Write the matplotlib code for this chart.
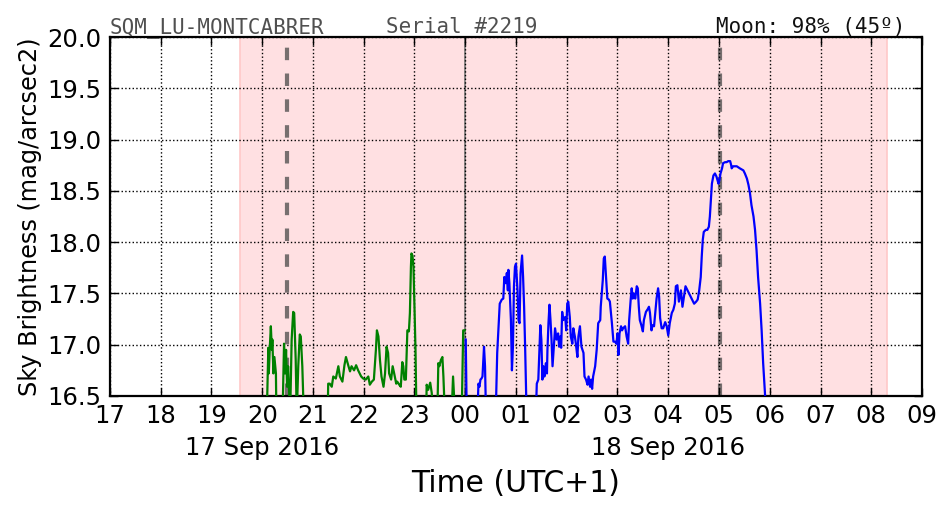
import matplotlib
matplotlib.use('Agg')
import matplotlib.pyplot as plt
import numpy as np

# decimal hours counted from 17 Sep 2016 00:00 (UTC+1); values in mag/arcsec2
# readings under 16.5 fall off the bottom of the plot
green_t = [20.09, 20.12, 20.13, 20.15, 20.17, 20.19, 20.20, 20.22, 20.24, 20.27, 20.28,
           20.40, 20.43, 20.45, 20.47, 20.49, 20.51, 20.55, 20.58, 20.61, 20.63, 20.66, 20.68,
           20.71, 20.74, 20.76, 20.79, 20.82,
           21.29, 21.30, 21.33, 21.37, 21.40, 21.45, 21.50, 21.53, 21.58, 21.62, 21.65, 21.70,
           21.73, 21.76, 21.81, 21.85, 21.89, 21.95, 21.99, 22.04, 22.09, 22.12, 22.16, 22.20,
           22.24, 22.26, 22.29, 22.32, 22.35, 22.39, 22.42, 22.45, 22.48, 22.50, 22.54, 22.57,
           22.60, 22.64, 22.66, 22.70, 22.73, 22.76, 22.78, 22.80, 22.83, 22.86, 22.89, 22.91,
           22.93, 22.94, 22.96, 22.98, 23.00, 23.02, 23.04,
           23.23, 23.24, 23.27, 23.31, 23.34, 23.37,
           23.45, 23.47, 23.49, 23.52, 23.55, 23.57, 23.60,
           23.73, 23.76, 23.80,
           23.93, 23.96, 23.99]
green_v = [16.30, 16.97, 16.72, 16.98, 17.18, 16.95, 17.05, 16.72, 16.88, 16.72, 16.30,
           16.30, 17.01, 16.72, 16.95, 16.59, 16.79, 16.30, 17.05, 17.32, 17.31, 16.85, 16.30,
           16.79, 17.10, 17.08, 16.79, 16.30,
           16.30, 16.62, 16.62, 16.59, 16.69, 16.67, 16.79, 16.69, 16.64, 16.80, 16.88, 16.79,
           16.74, 16.79, 16.75, 16.80, 16.75, 16.69, 16.67, 16.66, 16.69, 16.61, 16.64, 16.66,
           16.95, 17.14, 17.08, 16.85, 16.69, 16.59, 16.72, 16.98, 16.92, 16.72, 16.66, 16.79,
           16.72, 16.62, 16.64, 16.61, 16.59, 16.83, 16.79, 16.66, 16.66, 17.14, 17.13, 17.31,
           17.76, 17.89, 17.87, 17.76, 17.37, 16.95, 16.30,
           16.30, 16.61, 16.56, 16.63, 16.53, 16.30,
           16.30, 16.82, 16.79, 16.85, 16.88, 16.69, 16.30,
           16.30, 16.69, 16.30,
           16.30, 17.14, 17.14]

blue_t = [24.01, 24.03, 24.24, 24.26, 24.28, 24.30, 24.32, 24.34, 24.37, 24.39, 24.41,
          24.60, 24.63, 24.67, 24.68, 24.72, 24.75, 24.77, 24.80, 24.82, 24.84, 24.85, 24.87,
          24.90, 24.92, 24.94, 24.96, 24.98, 25.00, 25.03, 25.05, 25.07, 25.09, 25.12, 25.14,
          25.16, 25.18, 25.21,
          25.39, 25.41, 25.44, 25.46, 25.48, 25.50, 25.52, 25.54, 25.56, 25.59, 25.61, 25.62,
          25.64, 25.66, 25.68, 25.70, 25.72, 25.75, 25.77, 25.80, 25.83, 25.85, 25.87, 25.89,
          25.91, 25.93, 25.97, 25.99, 26.01, 26.03, 26.06, 26.08, 26.11, 26.13, 26.16, 26.18,
          26.21, 26.23, 26.26, 26.29, 26.33, 26.35, 26.38, 26.41, 26.43, 26.46, 26.48, 26.50,
          26.52, 26.56, 26.59, 26.62, 26.66, 26.67, 26.71, 26.73, 26.75, 26.77, 26.80, 26.83,
          26.85, 26.89, 26.92, 26.95, 26.98, 27.00, 27.02, 27.04, 27.07, 27.09, 27.11, 27.15,
          27.18, 27.21, 27.23, 27.26, 27.28, 27.30, 27.32, 27.35, 27.38, 27.40, 27.42, 27.44,
          27.47, 27.50, 27.52, 27.56, 27.60, 27.62, 27.64, 27.67, 27.69, 27.72, 27.74, 27.77,
          27.80, 27.82, 27.84, 27.87, 27.90, 27.94, 27.97, 28.00, 28.03, 28.07, 28.10, 28.13,
          28.15, 28.18, 28.21, 28.25, 28.28, 28.31, 28.34, 28.38, 28.41, 28.44, 28.47, 28.51,
          28.55, 28.58, 28.61, 28.64, 28.66, 28.68, 28.70, 28.74, 28.77, 28.80, 28.82, 28.84,
          28.86, 28.89, 28.92, 28.95, 28.99, 29.01, 29.03, 29.06, 29.08, 29.12, 29.15, 29.18,
          29.22, 29.24, 29.25, 29.28, 29.35, 29.41, 29.48, 29.51, 29.55, 29.58, 29.61, 29.64,
          29.68, 29.71, 29.74, 29.77, 29.81, 29.84, 29.87, 29.91, 29.95]
blue_v = [17.05, 16.30, 16.30, 16.62, 16.59, 16.66, 16.67, 16.69, 16.98, 16.79, 16.30,
          16.30, 16.92, 17.31, 17.40, 17.44, 17.45, 17.66, 17.60, 17.70, 17.53, 17.73, 17.60,
          17.24, 16.75, 16.98, 17.57, 17.76, 17.79, 17.53, 17.24, 17.21, 17.70, 17.87, 17.66,
          17.37, 16.98, 16.30,
          16.30, 16.62, 16.66, 16.92, 17.19, 17.05, 16.66, 16.79, 16.69, 16.82, 16.72, 16.95,
          17.21, 17.39, 17.24, 17.05, 16.79, 17.01, 17.16, 17.05, 17.11, 16.98, 17.08, 16.97,
          17.32, 17.24, 17.27, 17.14, 17.40, 17.42, 17.27, 17.08, 17.01, 17.16, 17.08, 17.01,
          16.88, 17.08, 17.18, 16.98, 16.92, 16.69, 16.66, 16.61, 16.69, 16.59, 16.66, 16.57,
          16.69, 16.79, 16.95, 17.21, 17.24, 17.37, 17.63, 17.84, 17.86, 17.70, 17.45, 17.44,
          17.42, 17.21, 17.03, 17.03, 17.01, 17.11, 16.90, 17.11, 17.18, 17.14, 17.16, 17.18,
          17.08, 17.01, 17.24, 17.44, 17.55, 17.45, 17.50, 17.45, 17.57, 17.55, 17.37, 17.24,
          17.19, 17.13, 17.24, 17.32, 17.35, 17.37, 17.31, 17.14, 17.19, 17.18, 17.29, 17.45,
          17.55, 17.47, 17.26, 17.16, 17.16, 17.22, 17.18, 17.09, 17.21, 17.31, 17.34, 17.40,
          17.57, 17.58, 17.42, 17.53, 17.37, 17.47, 17.57, 17.53, 17.50, 17.47, 17.44, 17.40,
          17.42, 17.44, 17.53, 17.66, 17.86, 18.02, 18.10, 18.12, 18.12, 18.15, 18.25, 18.41,
          18.57, 18.65, 18.67, 18.64, 18.57, 18.61, 18.67, 18.72, 18.77, 18.78, 18.78, 18.79,
          18.79, 18.75, 18.72, 18.74, 18.74, 18.72, 18.70, 18.67, 18.62, 18.56, 18.48, 18.36,
          18.25, 18.12, 17.92, 17.66, 17.40, 17.14, 16.82, 16.49, 16.20]

hour_ticks = list(range(17, 34))
hour_labels = ['%02d' % (h % 24) for h in hour_ticks]
date_ticks = [20, 28]
date_labels = ['17 Sep 2016', '18 Sep 2016']
night_start, night_end = 19.56, 32.31      # pink band
twilight_lines = [20.49, 29.02]            # dashed grey lines
midnight = 24.0

fig = plt.figure(figsize=(9.52, 5.12), dpi=100)
ax = fig.add_axes([0.1155, 0.2266, 0.853, 0.701])

ax.axvspan(night_start, night_end, facecolor='#ffe0e2', edgecolor='#ffc8c8', lw=1.2, zorder=0)
for t in twilight_lines:
    ax.axvline(t, color='#776f6f', lw=3, dashes=(3, 3.2), zorder=1)
ax.axvline(midnight, color='#777777', lw=1.2, zorder=1)

ax.plot(green_t, green_v, color='green', lw=1.6, zorder=3)
ax.plot(blue_t, blue_v, color='blue', lw=1.6, zorder=3)

ax.set_xlim(17, 33)
ax.set_ylim(16.5, 20.0)
ax.xaxis.remove_overlapping_locs = False
ax.set_xticks(hour_ticks)
ax.set_xticklabels(hour_labels)
ax.set_xticks(date_ticks, minor=True)
ax.set_xticklabels(date_labels, minor=True)
ax.set_yticks(np.arange(16.5, 20.01, 0.5))
ax.set_yticklabels(['%.1f' % v for v in np.arange(16.5, 20.01, 0.5)])

ax.tick_params(which='major', direction='in', top=True, right=True, length=6, width=1,
               labelsize=17.5, pad=6)
ax.tick_params(axis='x', which='minor', length=0, labelsize=17.5, pad=29)
ax.grid(True, which='major', color='black', linestyle=':', lw=1)
for s in ax.spines.values():
    s.set_linewidth(1.6)

ax.set_xlabel('Time (UTC+1)', fontsize=21.5, labelpad=6)
ax.set_ylabel('Sky Brightness (mag/arcsec2)', fontsize=17.3, labelpad=4)

fig.text(0.1155, 0.935, 'SQM_LU-MONTCABRER', family='DejaVu Sans Mono', fontsize=15,
         color='#505050', ha='left', va='baseline')
fig.text(0.405, 0.935, 'Serial #2219', family='DejaVu Sans Mono', fontsize=15,
         color='#505050', ha='left', va='baseline')
fig.text(0.951, 0.935, 'Moon: 98% (45º)', family='DejaVu Sans Mono', fontsize=15,
         color='#111111', ha='right', va='baseline')

fig.savefig('out.png', dpi=100, facecolor='white')
